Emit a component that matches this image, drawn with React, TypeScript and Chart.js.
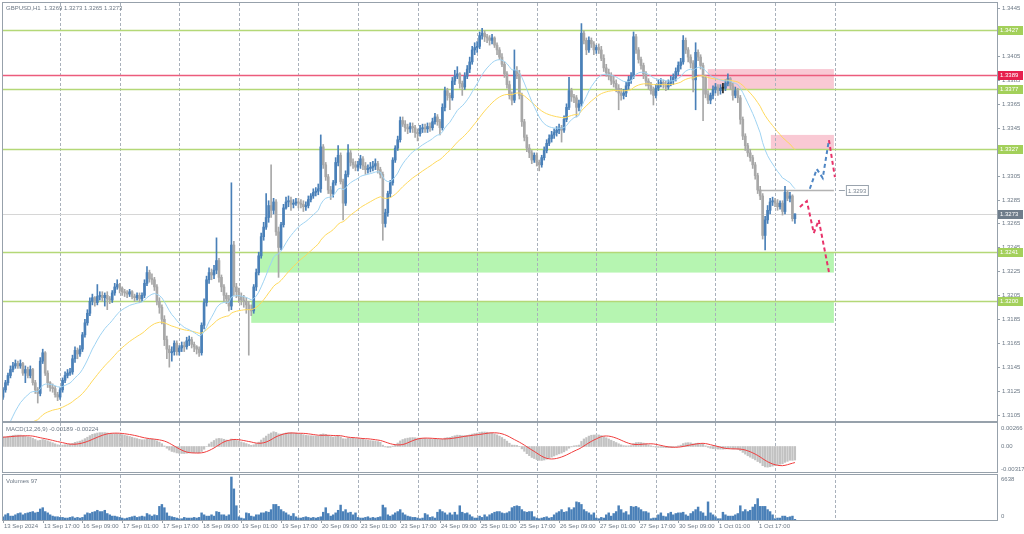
import React, { useEffect, useRef } from "react";
import { Chart, registerables } from "chart.js";
Chart.register(...registerables);

// ---------- texts ----------
const symbolTitle = "GBPUSD,H1  1.3269 1.3273 1.3265 1.3273";
const macdTitle = "MACD(12,26,9) -0.00189 -0.00224";
const volumeTitle = "Volumes 97";

// ---------- price data (pips above 1.3000), H1 bars ----------
const priceBase = 1.3;
const firstOpen = 120;
const closes = [
  126,132,138,143,146,148,146,148,140,143,
  138,143,132,126,123,150,157,140,132,128,
  127,122,120,126,134,138,140,141,152,159,
  156,160,172,182,190,200,203,199,204,205,
  203,205,202,201,207,212,214,211,208,207,
  206,208,204,203,205,202,205,215,224,219,
  218,212,200,195,185,168,160,157,158,165,
  158,161,163,162,167,168,164,162,160,157,
  180,199,218,224,222,226,234,220,212,205,
  202,196,247,212,208,204,201,200,197,193,
  192,212,224,238,254,262,270,280,276,283,
  258,245,264,278,283,284,281,282,283,282,
  281,279,280,285,288,291,292,294,329,314,
  304,293,290,299,316,322,300,282,306,324,
  316,314,312,314,319,313,310,311,312,313,
  315,310,306,265,274,290,299,318,328,335,
  351,348,345,344,346,345,341,340,344,345,
  344,346,345,350,354,350,345,362,376,372,
  370,384,388,390,382,379,388,394,400,410,
  412,413,422,424,421,420,418,420,414,410,
  404,398,390,381,372,368,393,390,372,350,
  337,328,324,318,322,316,314,320,326,332,
  336,339,341,343,345,343,352,362,376,371,
  370,362,365,424,418,410,418,415,410,412,
  410,403,395,391,388,384,382,378,374,372,
  374,380,385,388,421,410,402,397,390,384,
  380,376,372,378,381,383,381,379,382,384,
  387,392,397,400,418,410,404,399,385,408,
  404,397,387,373,368,372,377,379,376,378,
  378,382,386,380,372,376,370,352,338,330,
  324,320,314,305,293,288,255,268,276,283,
  284,282,279,282,275,291,286,288,269,273,
];
const highs = [
  128,134,140,146,149,151,150,151,149,146,
  145,146,144,134,128,153,160,158,142,133,
  131,129,124,128,136,141,143,144,155,162,
  161,163,174,185,193,203,206,204,214,208,
  208,207,208,204,209,215,218,215,212,210,
  209,210,209,206,207,207,207,218,229,226,
  223,220,214,203,197,188,171,163,162,167,
  167,163,166,166,170,171,170,166,163,162,
  182,202,221,228,227,230,253,236,222,214,
  207,205,299,250,215,211,207,205,203,200,
  197,214,227,241,257,266,290,284,314,286,
  285,262,266,281,287,288,287,285,286,286,
  285,284,283,288,290,294,295,298,339,331,
  316,306,296,301,320,330,324,302,309,331,
  326,319,317,317,322,321,316,314,316,317,
  319,317,312,308,277,292,301,320,330,338,
  354,354,351,348,349,349,347,344,347,348,
  348,349,349,353,357,356,352,365,379,378,
  374,387,393,396,391,384,391,397,404,413,
  416,417,425,428,426,423,422,423,421,416,
  412,407,400,392,384,375,410,396,393,374,
  352,339,331,326,324,324,318,322,329,335,
  339,342,344,346,348,347,355,365,387,378,
  373,372,368,432,426,420,421,420,417,414,
  415,413,406,398,394,391,388,385,381,378,
  377,383,388,391,425,423,412,404,399,392,
  386,383,379,381,385,386,385,384,385,388,
  390,395,400,403,422,420,412,406,401,416,
  410,406,399,389,376,374,380,382,381,381,
  382,385,390,387,382,379,378,372,354,340,
  332,327,322,316,307,296,290,271,280,286,
  287,286,285,284,284,296,292,291,289,273,
];
const lows = [
  118,124,130,136,141,144,144,144,138,132,
  136,136,130,123,115,121,148,138,128,125,
  124,120,117,118,124,132,136,138,139,149,
  152,154,158,170,180,188,197,196,197,201,
  200,196,193,198,199,205,210,207,205,204,
  203,204,202,200,201,199,200,203,213,216,
  214,209,197,190,181,163,152,145,150,155,
  155,155,158,158,160,163,161,158,156,154,
  155,177,196,215,218,219,223,216,208,200,
  198,192,193,205,203,199,197,195,190,155,
  188,190,209,222,236,251,260,266,270,273,
  255,220,243,262,277,279,276,278,280,278,
  278,275,276,278,283,286,288,289,291,311,
  301,290,285,287,297,313,298,268,280,304,
  313,311,309,309,311,310,306,307,308,309,
  310,307,303,251,262,271,287,297,316,326,
  333,346,342,340,341,341,337,334,338,341,
  341,341,342,343,348,347,339,343,359,368,
  360,368,381,386,378,372,377,386,391,398,
  406,408,411,419,417,416,414,415,412,406,
  402,396,387,378,369,364,366,386,369,346,
  334,325,320,315,316,313,309,312,318,324,
  330,333,336,338,340,333,341,350,360,367,
  366,354,359,363,415,406,408,412,406,407,
  407,401,392,388,385,381,379,375,360,368,
  369,371,377,382,386,407,399,394,386,380,
  377,373,364,370,376,379,378,376,377,380,
  381,384,389,394,398,407,400,395,375,360,
  401,394,351,370,365,365,369,374,372,373,
  374,376,380,377,368,370,366,348,335,326,
  321,317,311,302,290,285,252,243,265,273,
  280,279,276,277,272,273,284,283,267,265,
];
const volumes = [
  500,800,1000,600,600,800,1000,1100,800,1000,
  1100,1200,1300,1100,1200,1700,1900,1300,1100,800,
  600,500,500,400,400,300,300,400,500,300,
  400,300,400,800,1100,1000,1200,1300,1500,1300,
  1300,1500,1000,800,600,600,500,400,300,200,
  300,400,500,600,400,500,600,500,1000,800,
  600,800,700,2100,2400,1900,1100,600,500,400,
  300,200,200,400,300,300,300,400,300,400,
  1100,800,600,600,800,600,1300,1200,800,800,
  600,800,6638,4800,2200,500,300,200,1100,1000,
  600,500,800,800,1100,1100,1300,1200,1600,2400,
  2400,2100,1600,1300,1100,800,600,1000,500,300,
  300,400,500,400,300,400,300,400,500,1200,
  1900,1000,600,800,1100,1500,2300,1300,1600,1100,
  1200,800,1100,400,300,300,400,500,300,400,
  300,400,500,2300,1900,800,600,800,1100,1300,
  1600,1100,800,600,500,400,400,300,200,300,
  1000,800,400,500,300,1200,1600,1300,1100,800,
  1100,800,1200,800,2200,1200,1000,1100,800,500,
  300,300,600,400,800,500,800,1000,1200,1300,
  1300,1100,1000,1100,1300,1900,2100,2200,2100,1600,
  1300,1200,1300,1300,500,300,200,300,400,500,
  300,400,800,1100,1300,1600,1200,1300,1900,1600,
  1900,2800,2700,2400,1600,1300,1100,800,1100,300,
  200,400,300,800,1100,600,1000,1300,2200,1600,
  1100,1300,800,2100,2000,2100,1900,1600,1300,1300,
  1100,200,300,300,800,1100,600,500,1000,1200,
  800,1000,1100,1100,1200,800,600,1000,1300,1600,
  2000,1300,1100,600,2800,1100,800,500,200,200,
  1200,800,600,600,600,800,1000,2200,1300,1600,
  1300,1500,2000,2400,3300,2100,2100,2100,1600,1300,
  800,200,300,300,600,600,400,500,600,97,
];

// indicator starting values read at the left edge (pips)
const emaFastSeed = 82;   // light blue MA (20)
const emaSlowSeed = 71;   // yellow MA (50)
const macdFastSeed = 113; // EMA12
const macdSlowSeed = 100; // EMA26

// ---------- axes ----------
const dateLabels = [
  "13 Sep 2024","13 Sep 17:00","16 Sep 09:00","17 Sep 01:00","17 Sep 17:00",
  "18 Sep 09:00","19 Sep 01:00","19 Sep 17:00","20 Sep 09:00","23 Sep 01:00",
  "23 Sep 17:00","24 Sep 09:00","25 Sep 01:00","25 Sep 17:00","26 Sep 09:00",
  "27 Sep 01:00","27 Sep 17:00","30 Sep 09:00","1 Oct 01:00","1 Oct 17:00",
];
const dateLabelStep = 16;
const daySeparators = [23,47,71,95,119,143,167,191,215,239,263,287,311,335];
const priceAxisLabels = [
  "1.3445","1.3425","1.3405","1.3385","1.3365","1.3345","1.3325","1.3305","1.3285",
  "1.3265","1.3245","1.3225","1.3205","1.3185","1.3165","1.3145","1.3125","1.3105",
];
const macdAxisLabels = ["0.00266", "0.00", "-0.00317"];
const volumeAxisLabels = ["6638", "0"];

// ---------- drawn objects ----------
const greenLevels = [1.3427, 1.3377, 1.3327, 1.3241, 1.32];
const redLevels = [1.3389];
const currentPrice = 1.3273;
const supplyZones = [
  { from: 283.9, to: 334.7, low: 1.3377, high: 1.3394 },
  { from: 309.3, to: 334.7, low: 1.3327, high: 1.3339 },
];
const demandZones = [
  { from: 102.8, to: 334.7, low: 1.3224, high: 1.3241 },
  { from: 100.0, to: 334.7, low: 1.3182, high: 1.32 },
];
const pivotLine = { from: 304, to: 334.7, price: 1.3293 };
const bullPathX = [325, 327.8, 330.2, 332.7];
const bullPathY = [1.3294, 1.33105, 1.3303, 1.33347];
const turnPathX = [332.7, 335.1];
const turnPathY = [1.33347, 1.33038];
const bearPathX = [321, 323.8, 326.6, 328.6, 332.7];
const bearPathY = [1.32788, 1.32838, 1.3257, 1.32679, 1.32245];

// ---------- style ----------
const FONT = '6px "Liberation Sans", Arial, sans-serif';
const TXT = "#6d7986";
const FRAME = "#97a1ab";
const GRID = "#a9b1bb";
const BULL = "#4a80b8";
const BEAR = "#a8a8a8";
const XMAX = 400.4;

const P = (p: number) => priceBase + p / 10000;
const opens = closes.map((c, i) => (i === 0 ? firstOpen : closes[i - 1]));

function ema(vals: number[], n: number, seed: number) {
  const a = 2 / (n + 1);
  let e = seed;
  return vals.map((v) => (e = e + a * (v - e)));
}
const closeP = closes.map(P);
const maFast = ema(closeP, 20, P(emaFastSeed));
const maSlow = ema(closeP, 50, P(emaSlowSeed));
const e12 = ema(closeP, 12, P(macdFastSeed));
const e26 = ema(closeP, 26, P(macdSlowSeed));
const macdMain = e12.map((v, i) => v - e26[i]);
const macdSignal = macdMain.map((_, i) => {
  const w = macdMain.slice(Math.max(0, i - 8), i + 1);
  return w.reduce((a, b) => a + b, 0) / w.length;
});

function txt(ctx: any, s: string, x: number, y: number, color = TXT, align = "left") {
  ctx.save();
  ctx.font = FONT;
  ctx.fillStyle = color;
  ctx.textAlign = align;
  ctx.textBaseline = "middle";
  ctx.fillText(s, x, y);
  ctx.restore();
}
function drawGrid(chart: any) {
  const { ctx, chartArea: a, scales } = chart;
  const x = scales.x;
  ctx.save();
  ctx.strokeStyle = GRID;
  ctx.lineWidth = 1;
  ctx.setLineDash([3, 2]);
  daySeparators.forEach((s) => {
    const px = Math.round(x.getPixelForValue(s)) + 0.5;
    ctx.beginPath();
    ctx.moveTo(px, a.top);
    ctx.lineTo(px, a.bottom);
    ctx.stroke();
  });
  ctx.restore();
}
function drawFrame(chart: any) {
  const { ctx, chartArea: a } = chart;
  ctx.save();
  ctx.strokeStyle = FRAME;
  ctx.lineWidth = 1;
  ctx.strokeRect(Math.round(a.left) - 0.5, Math.round(a.top) - 0.5, Math.round(a.right - a.left) + 1, Math.round(a.bottom - a.top) + 1);
  ctx.restore();
}
function tag(ctx: any, yPix: number, bg: string, label: string, right: number) {
  const yy = Math.round(yPix);
  ctx.save();
  ctx.fillStyle = bg;
  ctx.fillRect(right + 1, yy - 4, 25, 9);
  ctx.restore();
  txt(ctx, label, right + 3, yy + 0.5, "#ffffff");
}

const mainPlugin = {
  id: "mainDeco",
  beforeDatasetsDraw(chart: any) {
    const { ctx, chartArea: a, scales } = chart;
    const x = scales.x, y = scales.y;
    ctx.save();
    ctx.beginPath();
    ctx.rect(a.left, a.top, a.right - a.left, a.bottom - a.top);
    ctx.clip();
    supplyZones.forEach((z) => {
      const x0 = x.getPixelForValue(z.from), x1 = x.getPixelForValue(z.to);
      const y0 = y.getPixelForValue(z.high), y1 = y.getPixelForValue(z.low);
      ctx.fillStyle = "#f9c9d4";
      ctx.fillRect(x0, y0, x1 - x0, y1 - y0);
    });
    demandZones.forEach((z) => {
      const x0 = x.getPixelForValue(z.from), x1 = x.getPixelForValue(z.to);
      const y0 = y.getPixelForValue(z.high), y1 = y.getPixelForValue(z.low);
      ctx.fillStyle = "#b6f5b1";
      ctx.fillRect(x0, y0, x1 - x0, y1 - y0);
    });
    ctx.restore();
    drawGrid(chart);
    ctx.save();
    const hline = (p: number, color: string, w: number) => {
      const py = Math.round(y.getPixelForValue(p)) + (w % 2 ? 0.5 : 0);
      ctx.strokeStyle = color;
      ctx.lineWidth = w;
      ctx.beginPath();
      ctx.moveTo(a.left, py);
      ctx.lineTo(a.right, py);
      ctx.stroke();
    };
    hline(currentPrice, "#d6d6d6", 1);
    greenLevels.forEach((p) => hline(p, "#b4d877", 1.5));
    redLevels.forEach((p) => hline(p, "#ec5c7c", 1.5));
    const py = Math.round(y.getPixelForValue(pivotLine.price)) + 0.5;
    ctx.strokeStyle = "#b3b3b3";
    ctx.lineWidth = 1.5;
    ctx.beginPath();
    ctx.moveTo(x.getPixelForValue(pivotLine.from), py);
    ctx.lineTo(x.getPixelForValue(pivotLine.to), py);
    ctx.stroke();
    ctx.restore();
  },
  afterDraw(chart: any) {
    const { ctx, chartArea: a, scales } = chart;
    const x = scales.x, y = scales.y;
    drawFrame(chart);
    ctx.save();
    ctx.strokeStyle = FRAME;
    priceAxisLabels.forEach((l) => {
      const py = Math.round(y.getPixelForValue(parseFloat(l))) + 0.5;
      ctx.beginPath();
      ctx.moveTo(a.right, py);
      ctx.lineTo(a.right + 3, py);
      ctx.stroke();
      txt(ctx, l, a.right + 5, py);
    });
    ctx.restore();
    tag(ctx, y.getPixelForValue(currentPrice), "#6f7d8b", currentPrice.toFixed(4), a.right);
    greenLevels.forEach((p) => tag(ctx, y.getPixelForValue(p), "#a3d05a", p.toFixed(4), a.right));
    redLevels.forEach((p) => tag(ctx, y.getPixelForValue(p), "#e6204e", p.toFixed(4), a.right));
    txt(ctx, symbolTitle, 6, 8);
    // pivot price label
    const px = x.getPixelForValue(pivotLine.to);
    const py = Math.round(y.getPixelForValue(pivotLine.price)) + 0.5;
    ctx.save();
    ctx.strokeStyle = "#9aa3ad";
    ctx.lineWidth = 1;
    ctx.beginPath();
    ctx.moveTo(px + 5, py);
    ctx.lineTo(px + 11, py);
    ctx.stroke();
    ctx.fillStyle = "#ffffff";
    ctx.fillRect(px + 12.5, py - 5, 22, 10);
    ctx.strokeRect(px + 12.5, py - 5, 22, 10);
    ctx.restore();
    txt(ctx, pivotLine.price.toFixed(4), px + 14, py + 0.5, "#7a8591");
  },
};

const macdPlugin = {
  id: "macdDeco",
  beforeDatasetsDraw(chart: any) {
    drawGrid(chart);
  },
  afterDraw(chart: any) {
    const { ctx, chartArea: a, scales } = chart;
    const y = scales.y;
    drawFrame(chart);
    macdAxisLabels.forEach((l) => {
      const py = Math.round(y.getPixelForValue(parseFloat(l))) + 0.5;
      txt(ctx, l, a.right + 4, py);
    });
    txt(ctx, macdTitle, 6, a.top + 6);
  },
};

const volPlugin = {
  id: "volDeco",
  beforeDatasetsDraw(chart: any) {
    drawGrid(chart);
  },
  afterDraw(chart: any) {
    const { ctx, chartArea: a, scales } = chart;
    const x = scales.x, y = scales.y;
    drawFrame(chart);
    volumeAxisLabels.forEach((l, i) => {
      const py = Math.round(y.getPixelForValue(parseFloat(l))) + (i === 0 ? 2 : -3.5);
      txt(ctx, l, a.right + 4, py);
    });
    txt(ctx, volumeTitle, 6, a.top + 6);
    ctx.save();
    ctx.strokeStyle = FRAME;
    dateLabels.forEach((l, i) => {
      const px = Math.round(x.getPixelForValue(i * dateLabelStep)) + 0.5;
      ctx.beginPath();
      ctx.moveTo(px, a.bottom + 1);
      ctx.lineTo(px, a.bottom + 3);
      ctx.stroke();
      txt(ctx, l, px + 0.5, a.bottom + 6.5);
    });
    ctx.restore();
  },
};

const baseScales = (ymin: number, ymax: number) => ({
  x: { type: "linear", min: 0, max: XMAX, display: false, offset: false },
  y: { type: "linear", min: ymin, max: ymax, display: false, beginAtZero: false },
});
const baseOptions = (ymin: number, ymax: number, padding: any) => ({
  responsive: false,
  animation: false,
  events: [],
  layout: { padding },
  plugins: { legend: { display: false }, tooltip: { enabled: false }, title: { display: false } },
  scales: baseScales(ymin, ymax),
});

export default function App() {
  const mainRef = useRef<HTMLCanvasElement>(null);
  const macdRef = useRef<HTMLCanvasElement>(null);
  const volRef = useRef<HTMLCanvasElement>(null);

  useEffect(() => {
    const idx = closes.map((_, i) => i);
    const candleColor = closes.map((c, i) => (c > opens[i] ? BULL : c < opens[i] ? BEAR : "#222222"));

    const main = new Chart(mainRef.current as HTMLCanvasElement, {
      type: "bar",
      data: {
        datasets: [
          {
            type: "line",
            data: idx.map((i) => ({ x: i, y: maFast[i] })),
            borderColor: "#9fd3f2",
            borderWidth: 1,
            pointRadius: 0,
            order: -2,
          },
          {
            type: "line",
            data: idx.map((i) => ({ x: i, y: maSlow[i] })),
            borderColor: "#ffd95c",
            borderWidth: 1,
            pointRadius: 0,
            order: -2,
          },
          {
            type: "line",
            data: bullPathX.map((v, i) => ({ x: v, y: bullPathY[i] })),
            borderColor: "#4f86c4",
            borderWidth: 2,
            borderDash: [4, 3],
            pointRadius: 0,
            order: -3,
          },
          {
            type: "line",
            data: turnPathX.map((v, i) => ({ x: v, y: turnPathY[i] })),
            borderColor: "#e8336a",
            borderWidth: 2,
            borderDash: [4, 3],
            pointRadius: 0,
            order: -3,
          },
          {
            type: "line",
            data: bearPathX.map((v, i) => ({ x: v, y: bearPathY[i] })),
            borderColor: "#e8336a",
            borderWidth: 2,
            borderDash: [4, 3],
            pointRadius: 0,
            order: -3,
          },
          {
            type: "bar",
            data: idx.map((i) => ({ x: i, y: [P(opens[i]), P(closes[i])] })),
            backgroundColor: candleColor,
            barThickness: 2,
            minBarLength: 1,
            grouped: false,
            order: 0,
          },
          {
            type: "bar",
            data: idx.map((i) => ({ x: i, y: [P(lows[i]), P(highs[i])] })),
            backgroundColor: candleColor,
            barThickness: 1,
            grouped: false,
            order: 1,
          },
        ],
      } as any,
      options: baseOptions(1.31, 1.34492, { left: 3, right: 27, top: 3, bottom: 1 }) as any,
      plugins: [mainPlugin],
    });

    const macd = new Chart(macdRef.current as HTMLCanvasElement, {
      type: "bar",
      data: {
        datasets: [
          {
            type: "line",
            data: idx.map((i) => ({ x: i, y: macdSignal[i] })),
            borderColor: "#f03c3c",
            borderWidth: 1,
            pointRadius: 0,
            order: -1,
          },
          {
            type: "bar",
            data: idx.map((i) => ({ x: i, y: macdMain[i] })),
            backgroundColor: "#c2c2c2",
            barThickness: 1.6,
            grouped: false,
            order: 1,
          },
        ],
      } as any,
      options: baseOptions(-0.003582, 0.0033, { left: 3, right: 27, top: 1, bottom: 1 }) as any,
      plugins: [macdPlugin],
    });

    const vol = new Chart(volRef.current as HTMLCanvasElement, {
      type: "bar",
      data: {
        datasets: [
          {
            type: "bar",
            data: idx.map((i) => ({ x: i, y: volumes[i] })),
            backgroundColor: "#4a80b8",
            barThickness: 1.8,
            grouped: false,
          },
        ],
      } as any,
      options: baseOptions(0, 6947, { left: 3, right: 27, top: 2, bottom: 14 }) as any,
      plugins: [volPlugin],
    });

    return () => {
      main.destroy();
      macd.destroy();
      vol.destroy();
    };
  }, []);

  return (
    <div style={{ position: "fixed", left: 0, top: 0, width: 1024, height: 534, background: "#ffffff", overflow: "hidden" }}>
      <canvas ref={mainRef} width={1024} height={422} style={{ position: "absolute", left: 0, top: 0, width: 1024, height: 422 }} />
      <canvas ref={macdRef} width={1024} height={51} style={{ position: "absolute", left: 0, top: 422, width: 1024, height: 51 }} />
      <canvas ref={volRef} width={1024} height={61} style={{ position: "absolute", left: 0, top: 473, width: 1024, height: 61 }} />
    </div>
  );
}
